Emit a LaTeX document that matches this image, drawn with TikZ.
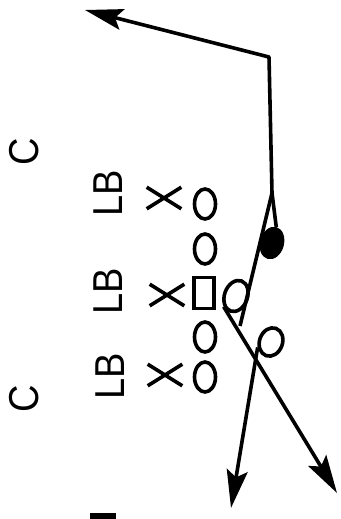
\documentclass[tikz,border=0pt]{standalone}
\usepackage{fontspec}
\setmainfont{Liberation Sans}
\usetikzlibrary{arrows.meta,shapes.geometric,shapes.misc}
\begin{document}
\begin{tikzpicture}[x=1pt,y=-1pt,
  ln/.style={line width=3.6pt, line join=round},
  oval/.style={ellipse, draw, line width=3.6pt, minimum width=21pt, minimum height=30pt, inner sep=0pt},
  box/.style={rectangle, draw, line width=3.6pt, minimum width=20pt, minimum height=31pt, inner sep=0pt},
  xmark/.style={cross out, draw, line width=3.6pt, minimum width=31pt, minimum height=18pt, inner sep=0pt},
  lbl/.style={rotate=90, yscale=1.1, inner sep=0pt, font=\fontsize{38}{38}\selectfont},
  tipped/.style={ln, -{Stealth[length=38pt,width=21pt,inset=7pt]}}
]
\useasboundingbox (0,0) rectangle (340,519);
% labels
\node[lbl] (c1) at (24,152) {C};
\node[lbl] (c2) at (24,399) {C};
\node[lbl] (lb1) at (108,193) {LB};
\node[lbl] (lb2) at (108,291) {LB};
\node[lbl] (lb3) at (110,376) {LB};
% defenders
\node[xmark] (x1) at (164,198) {};
\node[xmark] (x2) at (167,295) {};
\node[xmark] (x3) at (165,375) {};
% offense line
\node[oval] (o1) at (205,204) {};
\node[oval] (o2) at (205,249) {};
\node[box]  (sq) at (204,293) {};
\node[oval] (o4) at (205,337) {};
\node[oval] (o5) at (205,377) {};
% backs
\node[oval, minimum width=23pt, minimum height=32pt, rotate=-20] (back) at (236,296) {};
\node[oval, minimum width=23pt, minimum height=29pt, rotate=-20] (rb) at (271,342) {};
\node[ellipse, fill=black, draw, line width=1pt, minimum width=23pt, minimum height=32pt, inner sep=0pt, rotate=-15] (qb) at (272,243) {};
% route coordinates
\coordinate (j) at (272,193);
\coordinate (corner) at (269,57);
\coordinate (t1) at (85,10);
\coordinate (m) at (240,326);
\coordinate (t2) at (337,493);
\coordinate (t3) at (231,508);
% routes
\draw[tipped] (qb.north) -- (j) -- (corner) -- (t1);
\draw[ln] (j) -- (m);
\draw[tipped] (back.241) -- (t2);
\draw[tipped] (rb.222) -- (t3);
% cut-off mark at bottom
\fill (90,513) rectangle (116,519);
\end{tikzpicture}
\end{document}
